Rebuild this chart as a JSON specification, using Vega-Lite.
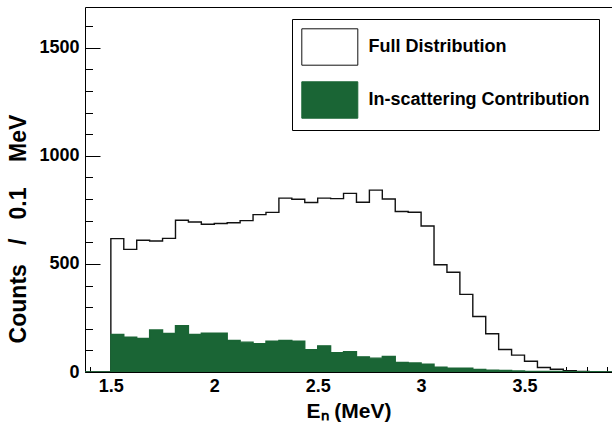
{
  "$schema": "https://vega.github.io/schema/vega-lite/v6.json",
  "width": 527,
  "height": 365,
  "autosize": "none",
  "padding": {"left": 85, "top": 7, "right": 0, "bottom": 54},
  "background": "white",
  "config": {
    "view": {"stroke": null},
    "font": "Liberation Sans",
    "axis": {
      "labelFont": "Liberation Sans",
      "labelFontWeight": "bold",
      "labelFontSize": 18,
      "labelColor": "#000000",
      "titleFont": "Liberation Sans",
      "titleFontWeight": "bold",
      "titleFontSize": 21,
      "titleColor": "#000000",
      "domainColor": "#000000",
      "domainWidth": 1,
      "tickColor": "#000000",
      "tickWidth": 1,
      "grid": false,
      "zindex": 1
    },
    "legend": {
      "symbolType": "M-1,-1H2.077V1H-1Z",
      "symbolSize": 1325,
      "symbolStrokeWidth": 1,
      "symbolOpacity": 1,
      "labelFont": "Liberation Sans",
      "labelFontWeight": "bold",
      "labelFontSize": 18,
      "labelColor": "#000000",
      "labelLimit": 400
    }
  },
  "data": {
    "values": [
      {"energy": 1.375, "series": "Full Distribution", "counts": 0},
      {"energy": 1.4375, "series": "Full Distribution", "counts": 0},
      {"energy": 1.5, "series": "Full Distribution", "counts": 617},
      {"energy": 1.5625, "series": "Full Distribution", "counts": 567},
      {"energy": 1.625, "series": "Full Distribution", "counts": 609},
      {"energy": 1.6875, "series": "Full Distribution", "counts": 606},
      {"energy": 1.75, "series": "Full Distribution", "counts": 618},
      {"energy": 1.8125, "series": "Full Distribution", "counts": 702},
      {"energy": 1.875, "series": "Full Distribution", "counts": 694},
      {"energy": 1.9375, "series": "Full Distribution", "counts": 683},
      {"energy": 2.0, "series": "Full Distribution", "counts": 687},
      {"energy": 2.0625, "series": "Full Distribution", "counts": 690},
      {"energy": 2.125, "series": "Full Distribution", "counts": 700},
      {"energy": 2.1875, "series": "Full Distribution", "counts": 728},
      {"energy": 2.25, "series": "Full Distribution", "counts": 738},
      {"energy": 2.3125, "series": "Full Distribution", "counts": 804},
      {"energy": 2.375, "series": "Full Distribution", "counts": 799},
      {"energy": 2.4375, "series": "Full Distribution", "counts": 784},
      {"energy": 2.5, "series": "Full Distribution", "counts": 804},
      {"energy": 2.5625, "series": "Full Distribution", "counts": 802},
      {"energy": 2.625, "series": "Full Distribution", "counts": 826},
      {"energy": 2.6875, "series": "Full Distribution", "counts": 785},
      {"energy": 2.75, "series": "Full Distribution", "counts": 841},
      {"energy": 2.8125, "series": "Full Distribution", "counts": 800},
      {"energy": 2.875, "series": "Full Distribution", "counts": 742},
      {"energy": 2.9375, "series": "Full Distribution", "counts": 739},
      {"energy": 3.0, "series": "Full Distribution", "counts": 675},
      {"energy": 3.0625, "series": "Full Distribution", "counts": 496},
      {"energy": 3.125, "series": "Full Distribution", "counts": 461},
      {"energy": 3.1875, "series": "Full Distribution", "counts": 359},
      {"energy": 3.25, "series": "Full Distribution", "counts": 257},
      {"energy": 3.3125, "series": "Full Distribution", "counts": 177},
      {"energy": 3.375, "series": "Full Distribution", "counts": 104},
      {"energy": 3.4375, "series": "Full Distribution", "counts": 78},
      {"energy": 3.5, "series": "Full Distribution", "counts": 50},
      {"energy": 3.5625, "series": "Full Distribution", "counts": 21},
      {"energy": 3.625, "series": "Full Distribution", "counts": 13},
      {"energy": 3.6875, "series": "Full Distribution", "counts": 6},
      {"energy": 3.75, "series": "Full Distribution", "counts": 2},
      {"energy": 3.8125, "series": "Full Distribution", "counts": 0},
      {"energy": 3.875, "series": "Full Distribution", "counts": 0},
      {"energy": 3.9375, "series": "Full Distribution", "counts": 0},
      {"energy": 4.0, "series": "Full Distribution", "counts": 0},
      {"energy": 1.375, "series": "In-scattering Contribution", "counts": 0},
      {"energy": 1.4375, "series": "In-scattering Contribution", "counts": 0},
      {"energy": 1.5, "series": "In-scattering Contribution", "counts": 174},
      {"energy": 1.5625, "series": "In-scattering Contribution", "counts": 161},
      {"energy": 1.625, "series": "In-scattering Contribution", "counts": 155},
      {"energy": 1.6875, "series": "In-scattering Contribution", "counts": 194},
      {"energy": 1.75, "series": "In-scattering Contribution", "counts": 178},
      {"energy": 1.8125, "series": "In-scattering Contribution", "counts": 214},
      {"energy": 1.875, "series": "In-scattering Contribution", "counts": 174},
      {"energy": 1.9375, "series": "In-scattering Contribution", "counts": 180},
      {"energy": 2.0, "series": "In-scattering Contribution", "counts": 180},
      {"energy": 2.0625, "series": "In-scattering Contribution", "counts": 146},
      {"energy": 2.125, "series": "In-scattering Contribution", "counts": 138},
      {"energy": 2.1875, "series": "In-scattering Contribution", "counts": 131},
      {"energy": 2.25, "series": "In-scattering Contribution", "counts": 143},
      {"energy": 2.3125, "series": "In-scattering Contribution", "counts": 146},
      {"energy": 2.375, "series": "In-scattering Contribution", "counts": 143},
      {"energy": 2.4375, "series": "In-scattering Contribution", "counts": 103},
      {"energy": 2.5, "series": "In-scattering Contribution", "counts": 121},
      {"energy": 2.5625, "series": "In-scattering Contribution", "counts": 89},
      {"energy": 2.625, "series": "In-scattering Contribution", "counts": 94},
      {"energy": 2.6875, "series": "In-scattering Contribution", "counts": 70},
      {"energy": 2.75, "series": "In-scattering Contribution", "counts": 64},
      {"energy": 2.8125, "series": "In-scattering Contribution", "counts": 72},
      {"energy": 2.875, "series": "In-scattering Contribution", "counts": 44},
      {"energy": 2.9375, "series": "In-scattering Contribution", "counts": 42},
      {"energy": 3.0, "series": "In-scattering Contribution", "counts": 36},
      {"energy": 3.0625, "series": "In-scattering Contribution", "counts": 22},
      {"energy": 3.125, "series": "In-scattering Contribution", "counts": 17},
      {"energy": 3.1875, "series": "In-scattering Contribution", "counts": 18},
      {"energy": 3.25, "series": "In-scattering Contribution", "counts": 12},
      {"energy": 3.3125, "series": "In-scattering Contribution", "counts": 8},
      {"energy": 3.375, "series": "In-scattering Contribution", "counts": 7},
      {"energy": 3.4375, "series": "In-scattering Contribution", "counts": 5},
      {"energy": 3.5, "series": "In-scattering Contribution", "counts": 3},
      {"energy": 3.5625, "series": "In-scattering Contribution", "counts": 3},
      {"energy": 3.625, "series": "In-scattering Contribution", "counts": 2},
      {"energy": 3.6875, "series": "In-scattering Contribution", "counts": 1},
      {"energy": 3.75, "series": "In-scattering Contribution", "counts": 1},
      {"energy": 3.8125, "series": "In-scattering Contribution", "counts": 1},
      {"energy": 3.875, "series": "In-scattering Contribution", "counts": 0},
      {"energy": 3.9375, "series": "In-scattering Contribution", "counts": 0},
      {"energy": 4.0, "series": "In-scattering Contribution", "counts": 0}
    ]
  },
  "layer": [
    {
      "transform": [{"filter": "datum.series === 'Full Distribution'"}],
      "mark": {"type": "area", "interpolate": "step-after", "strokeWidth": 1.4, "opacity": 1, "fillOpacity": 1, "clip": true},
      "encoding": {
        "x": {
          "field": "energy", "type": "quantitative",
          "scale": {"domain": [1.375, 3.923], "nice": false, "zero": false},
          "axis": {"orient": "bottom", "values": [1.5, 2, 2.5, 3, 3.5], "format": "~g", "ticks": false, "labelPadding": 5, "labelFlush": false, "title": "Eₙ (MeV)", "titlePadding": 5, "domain": true}
        },
        "y": {
          "field": "counts", "type": "quantitative", "stack": null,
          "scale": {"domain": [0, 1688], "nice": false},
          "axis": {"orient": "left", "values": [0, 500, 1000, 1500], "format": "d", "ticks": false, "labelPadding": 6, "labelFlush": false, "title": "Counts\u00a0\u00a0\u00a0/\u00a0\u00a0\u00a00.1\u00a0\u00a0\u00a0\u00a0MeV", "titleFontSize": 23, "titlePadding": 8, "titleY": 221.5, "domain": true}
        },
        "fill": {
          "field": "series", "type": "nominal",
          "scale": {"domain": ["Full Distribution", "In-scattering Contribution"], "range": ["#ffffff", "#1a6535"]},
          "legend": {"title": null, "orient": "none", "legendX": 207, "legendY": 12, "padding": 9, "strokeColor": "#000000", "fillColor": "#ffffff", "rowPadding": 11, "labelOffset": 29.6}
        },
        "stroke": {
          "field": "series", "type": "nominal",
          "scale": {"domain": ["Full Distribution", "In-scattering Contribution"], "range": ["#111111", "#1a6535"]},
          "legend": {"title": null, "orient": "none", "legendX": 207, "legendY": 12, "padding": 9, "strokeColor": "#000000", "fillColor": "#ffffff", "rowPadding": 11, "labelOffset": 29.6}
        }
      }
    },
    {
      "transform": [{"filter": "datum.series === 'In-scattering Contribution'"}],
      "mark": {"type": "area", "interpolate": "step-after", "strokeWidth": 1.4, "opacity": 1, "fillOpacity": 1, "clip": true},
      "encoding": {
        "x": {
          "field": "energy", "type": "quantitative",
          "scale": {"domain": [1.375, 3.923], "nice": false, "zero": false},
          "axis": {"orient": "bottom", "values": [1.5, 2, 2.5, 3, 3.5], "labels": false, "domain": false, "tickSize": -11, "title": null}
        },
        "y": {
          "field": "counts", "type": "quantitative", "stack": null,
          "scale": {"domain": [0, 1688], "nice": false},
          "axis": {"orient": "left", "values": [0, 500, 1000, 1500], "labels": false, "domain": false, "tickSize": -15, "title": null}
        },
        "fill": {"field": "series", "type": "nominal"},
        "stroke": {"field": "series", "type": "nominal"}
      }
    },
    {
      "mark": {"type": "point", "opacity": 0, "clip": true},
      "encoding": {
        "x": {
          "field": "energy", "type": "quantitative",
          "axis": {"orient": "bottom", "values": [1.4, 1.5, 1.6, 1.7, 1.8, 1.9, 2.0, 2.1, 2.2, 2.3, 2.4, 2.5, 2.6, 2.7, 2.8, 2.9, 3.0, 3.1, 3.2, 3.3, 3.4, 3.5, 3.6, 3.7, 3.8, 3.9], "labels": false, "domain": false, "tickSize": -5.5, "title": null}
        },
        "y": {
          "field": "counts", "type": "quantitative",
          "axis": {"orient": "left", "values": [0, 100, 200, 300, 400, 500, 600, 700, 800, 900, 1000, 1100, 1200, 1300, 1400, 1500, 1600], "labels": false, "domain": false, "tickSize": -7.5, "title": null}
        }
      }
    },
    {
      "mark": {"type": "point", "opacity": 0, "clip": true},
      "encoding": {
        "x": {
          "field": "energy", "type": "quantitative",
          "axis": {"orient": "top", "labels": false, "ticks": false, "domain": true, "title": null}
        },
        "y": {"field": "counts", "type": "quantitative", "axis": null}
      }
    }
  ],
  "resolve": {"axis": {"x": "independent", "y": "independent"}}
}
